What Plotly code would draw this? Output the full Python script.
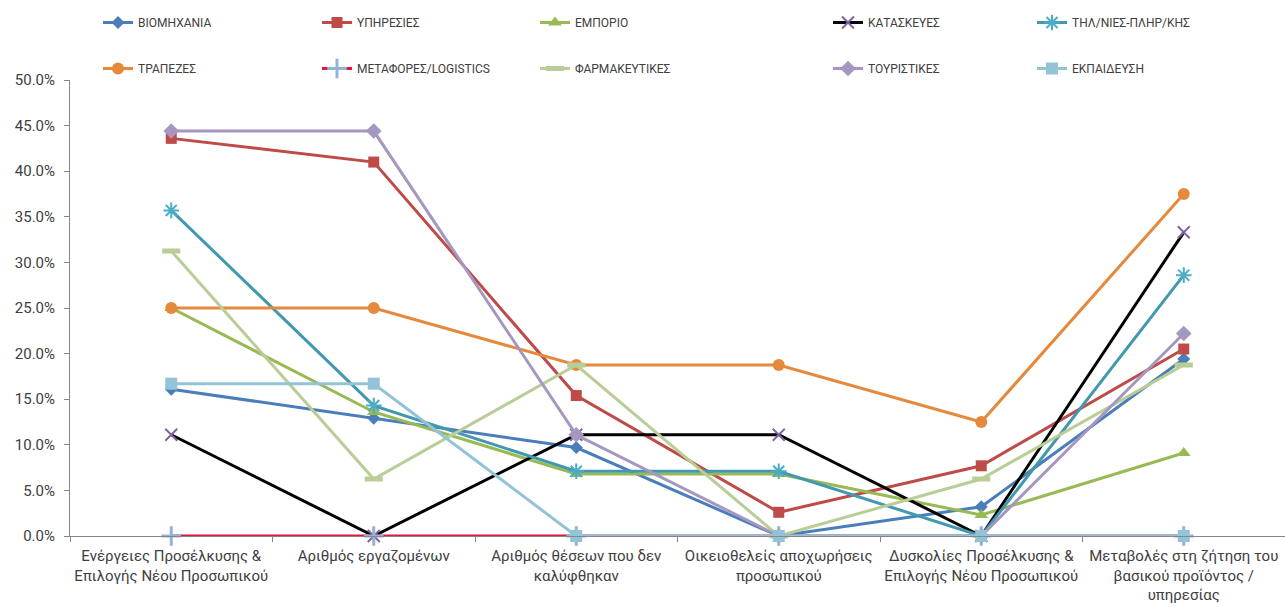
import plotly.graph_objects as go

# Categories on the x axis
categories = [
    "Ενέργειες Προσέλκυσης &<br>Επιλογής Νέου Προσωπικού",
    "Αριθμός εργαζομένων",
    "Αριθμός θέσεων που δεν<br>καλύφθηκαν",
    "Οικειοθελείς αποχωρήσεις<br>προσωπικού",
    "Δυσκολίες Προσέλκυσης &<br>Επιλογής Νέου Προσωπικού",
    "Μεταβολές στη ζήτηση του<br>βασικού προϊόντος /<br>υπηρεσίας",
]

# Shares per sector (fractions)
viomichania = [0.161, 0.129, 0.097, 0.0, 0.032, 0.194]
ypiresies = [0.436, 0.410, 0.154, 0.026, 0.077, 0.205]
emporio = [0.250, 0.136, 0.068, 0.068, 0.023, 0.091]
kataskeves = [0.111, 0.0, 0.111, 0.111, 0.0, 0.333]
tilepikoinonies = [0.357, 0.143, 0.071, 0.071, 0.0, 0.286]
trapezes = [0.250, 0.250, 0.1875, 0.1875, 0.125, 0.375]
metafores = [0.0, 0.0, 0.0, 0.0, 0.0, 0.0]
farmakeftikes = [0.3125, 0.0625, 0.1875, 0.0, 0.0625, 0.1875]
touristikes = [0.444, 0.444, 0.111, 0.0, 0.0, 0.222]
ekpaidefsi = [0.167, 0.167, 0.0, 0.0, 0.0, 0.0]

y_ticks = [0.0, 0.05, 0.10, 0.15, 0.20, 0.25, 0.30, 0.35, 0.40, 0.45, 0.50]
y_tick_text = [f"{v * 100:.1f}%" for v in y_ticks]

FONT = "Roboto, sans-serif"
TEXT_COLOR = "#404040"

# name, values, line colour, marker symbol, marker colour, marker size, marker line width, legend id
series = [
    ("ΒΙΟΜΗΧΑΝΙΑ", viomichania, "#4A7EBB", "diamond", "#4A7EBB", 10, 0, "legend"),
    ("ΥΠΗΡΕΣΙΕΣ", ypiresies, "#BE4B48", "square", "#BE4B48", 11, 0, "legend2"),
    ("ΕΜΠΟΡΙΟ", emporio, "#98B954", "triangle-up", "#98B954", 12, 0, "legend3"),
    ("ΚΑΤΑΣΚΕΥΕΣ", kataskeves, "#000000", "x-thin-open", "#7F63A1", 12, 2, "legend4"),
    ("ΤΗΛ/ΝΙΕΣ-ΠΛΗΡ/ΚΗΣ", tilepikoinonies, "#4198AF", "asterisk-open", "#4BACC6", 13, 2, "legend5"),
    ("ΤΡΑΠΕΖΕΣ", trapezes, "#E5893C", "circle", "#E5893C", 12, 0, "legend"),
    ("ΜΕΤΑΦΟΡΕΣ/LOGISTICS", metafores, "#E3173A", "cross-thin-open", "#95B3D7", 14, 3, "legend2"),
    ("ΦΑΡΜΑΚΕΥΤΙΚΕΣ", farmakeftikes, "#B9CD96", "line-ew-open", "#B9CD96", 13, 5, "legend3"),
    ("ΤΟΥΡΙΣΤΙΚΕΣ", touristikes, "#A597BF", "diamond", "#A597BF", 12, 0, "legend4"),
    ("ΕΚΠΑΙΔΕΥΣΗ", ekpaidefsi, "#93C3D6", "square", "#93C3D6", 12, 0, "legend5"),
]

fig = go.Figure()
for name, vals, lcol, sym, mcol, msize, mlw, leg in series:
    marker = dict(symbol=sym, size=msize, color=mcol)
    if mlw:
        marker["line"] = dict(width=mlw, color=mcol)
    fig.add_trace(go.Scatter(
        x=categories, y=vals, name=name, mode="lines+markers",
        line=dict(color=lcol, width=3),
        marker=marker, cliponaxis=False,
        legend=leg, legendgroup=name,
    ))

# Five legend columns, two rows each (positions in paper units)
PLOT_L, PLOT_W = 70, 1215
PLOT_T, PLOT_H = 80, 456
legend_cols = [98, 317, 535, 828, 1032]
legend_ids = ["legend", "legend2", "legend3", "legend4", "legend5"]
legend_cfg = {}
for lid, px in zip(legend_ids, legend_cols):
    legend_cfg[lid] = dict(
        x=(px - PLOT_L) / PLOT_W, y=1 + (PLOT_T - 8) / PLOT_H,
        xanchor="left", yanchor="top",
        orientation="v", tracegroupgap=27,
        font=dict(family=FONT, size=12, color=TEXT_COLOR),
        bgcolor="rgba(0,0,0,0)", itemwidth=30,
    )

fig.update_layout(
    width=1285, height=607,
    margin=dict(l=70, r=0, t=80, b=71, autoexpand=False),
    plot_bgcolor="white", paper_bgcolor="white",
    showlegend=True,
    **legend_cfg,
)

fig.update_xaxes(
    type="category", range=[-0.5, 5.5], tickangle=0, automargin=False,
    showline=True, linecolor="#868686", linewidth=1,
    ticks="outside", tickson="boundaries", ticklen=5, tickcolor="#868686",
    ticklabelstandoff=6,
    tickfont=dict(family=FONT, size=15, color=TEXT_COLOR),
    showgrid=False, zeroline=False,
)
fig.update_yaxes(
    range=[0, 0.5], tickvals=y_ticks, ticktext=y_tick_text, automargin=False,
    showline=True, linecolor="#868686", linewidth=1,
    ticks="outside", ticklen=5, tickcolor="#868686",
    ticklabelstandoff=6,
    tickfont=dict(family=FONT, size=15, color=TEXT_COLOR),
    showgrid=False, zeroline=False,
)

fig.write_html("out.html")
